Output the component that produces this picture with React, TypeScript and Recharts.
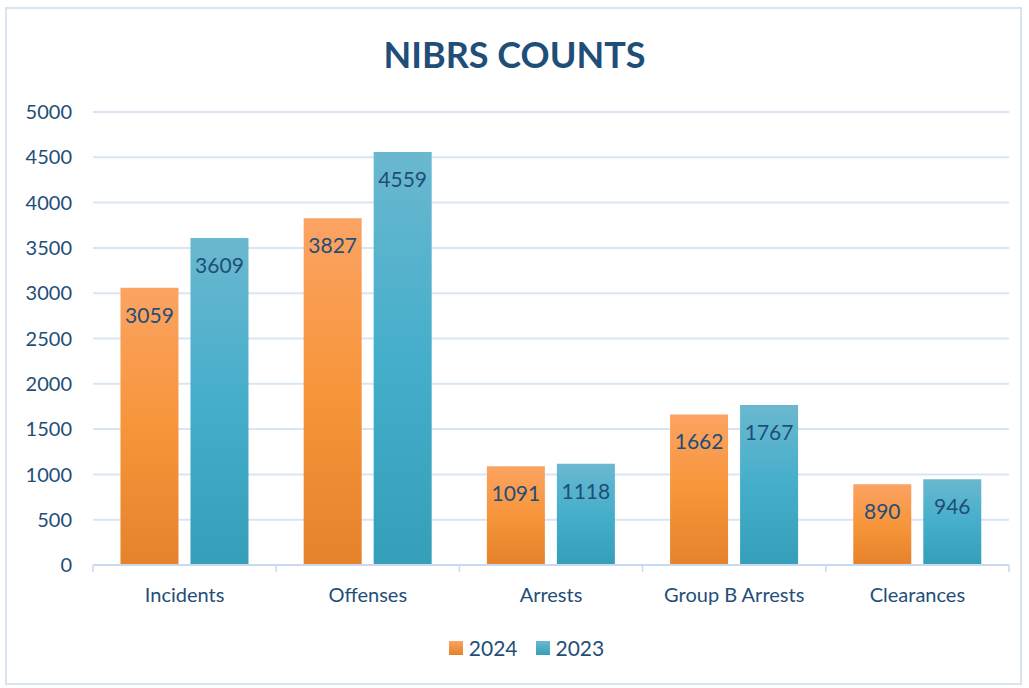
import React from 'react';
import { BarChart, Bar, XAxis, YAxis, CartesianGrid, LabelList } from 'recharts';

const categories = ['Incidents', 'Offenses', 'Arrests', 'Group B Arrests', 'Clearances'];
const counts2024 = [3059, 3827, 1091, 1662, 890];
const counts2023 = [3609, 4559, 1118, 1767, 946];
const yTicks = [0, 500, 1000, 1500, 2000, 2500, 3000, 3500, 4000, 4500, 5000];

const data = categories.map((name, i) => ({
    name,
    y2024: counts2024[i],
    y2023: counts2023[i],
}));

const TEXT = '#1F4E79';
const FONT = 'Lato, "Open Sans", sans-serif';
const BAND = (1009 - 93) / categories.length;

const CategoryTick = (props: any) => {
    const { x, payload, index } = props;
    const left = x - BAND / 2;
    const right = x + BAND / 2;
    return (
        <g>
            <line x1={left} y1={565} x2={left} y2={572} stroke="#C9D9EE" strokeWidth={1.5} />
            {index === categories.length - 1 && (
                <line x1={right} y1={565} x2={right} y2={572} stroke="#C9D9EE" strokeWidth={1.5} />
            )}
            <text x={x} y={602} textAnchor="middle" fill={TEXT} fontSize={20} fontFamily={FONT}>
                {payload.value}
            </text>
        </g>
    );
};

const App: React.FC = () => {
    return (
        <div style={{ position: 'absolute', left: 0, top: 0, width: 1029, height: 688, background: '#fff', fontFamily: FONT }}>
            <div
                style={{
                    position: 'absolute',
                    left: 5,
                    top: 7,
                    width: 1013,
                    height: 674,
                    border: '2px solid #D7E4F2',
                }}
            />
            <div
                style={{
                    position: 'absolute',
                    left: 0,
                    width: 1029,
                    top: 32,
                    textAlign: 'center',
                    fontSize: 36,
                    fontWeight: 700,
                    color: TEXT,
                }}
            >
                NIBRS COUNTS
            </div>
            <div style={{ position: 'absolute', left: 0, top: 0 }}>
                <BarChart
                    width={1029}
                    height={688}
                    data={data}
                    margin={{ top: 112, right: 20, bottom: 73, left: 13 }}
                    barCategoryGap="15%"
                    barGap={12}
                >
                    <defs>
                        <linearGradient id="gradOrange" x1="0" y1="0" x2="0" y2="1">
                            <stop offset="0%" stopColor="#FBA363" />
                            <stop offset="50%" stopColor="#F7953A" />
                            <stop offset="100%" stopColor="#E5822B" />
                        </linearGradient>
                        <linearGradient id="gradTeal" x1="0" y1="0" x2="0" y2="1">
                            <stop offset="0%" stopColor="#6AB8CF" />
                            <stop offset="50%" stopColor="#45AECB" />
                            <stop offset="100%" stopColor="#359FB9" />
                        </linearGradient>
                    </defs>
                    <CartesianGrid vertical={false} stroke="#D9E5F3" strokeWidth={2} />
                    <XAxis
                        dataKey="name"
                        axisLine={{ stroke: '#C9D9EE', strokeWidth: 2 }}
                        tickLine={false}
                        tickSize={0}
                        tick={<CategoryTick />}
                        height={50}
                        interval={0}
                    />
                    <YAxis
                        domain={[0, 5000]}
                        ticks={yTicks}
                        width={80}
                        axisLine={false}
                        tickLine={false}
                        tickSize={0}
                        tickMargin={21}
                        tick={{ fill: TEXT, fontSize: 20, fontFamily: FONT }}
                    />
                    <Bar dataKey="y2024" name="2024" fill="url(#gradOrange)" isAnimationActive={false}>
                        <LabelList dataKey="y2024" position="insideTop" offset={20} fill={TEXT} fontSize={21} fontFamily={FONT} />
                    </Bar>
                    <Bar dataKey="y2023" name="2023" fill="url(#gradTeal)" isAnimationActive={false}>
                        <LabelList dataKey="y2023" position="insideTop" offset={20} fill={TEXT} fontSize={21} fontFamily={FONT} />
                    </Bar>
                </BarChart>
            </div>
            <div
                style={{
                    position: 'absolute',
                    left: 12,
                    width: 1029,
                    top: 636,
                    display: 'flex',
                    justifyContent: 'center',
                    alignItems: 'center',
                    fontSize: 21,
                    color: TEXT,
                    lineHeight: '24px',
                }}
            >
                <span style={{ width: 14, height: 14, background: 'linear-gradient(#FBA363, #E5822B)', marginRight: 6 }} />
                <span style={{ marginRight: 18 }}>2024</span>
                <span style={{ width: 14, height: 14, background: 'linear-gradient(#6AB8CF, #359FB9)', marginRight: 6 }} />
                <span>2023</span>
            </div>
        </div>
    );
};

export default App;
